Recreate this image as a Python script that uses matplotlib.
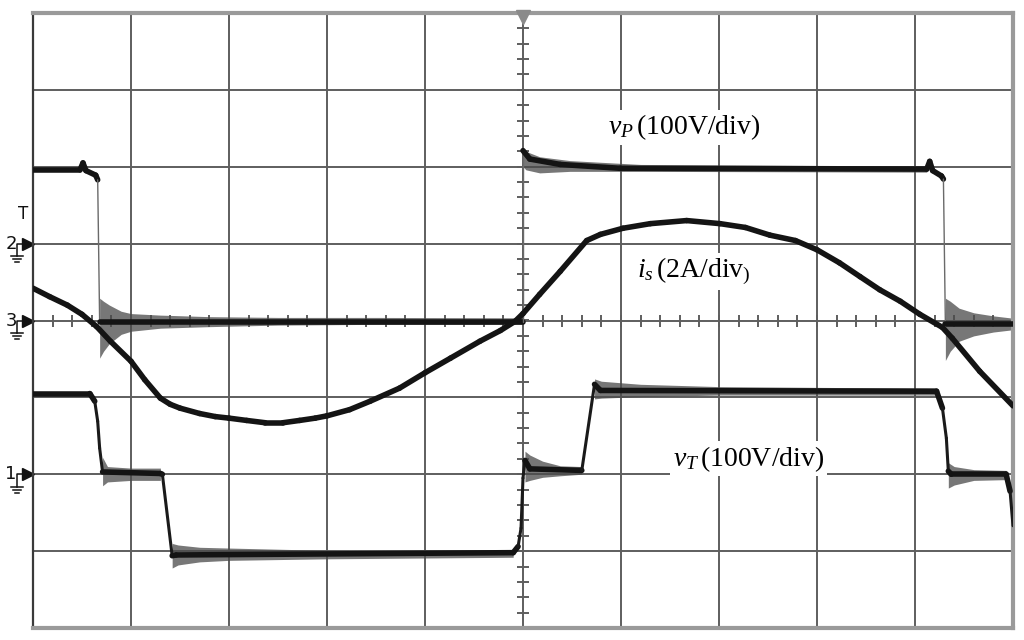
import numpy as np
import matplotlib
matplotlib.use("Agg")
import matplotlib.pyplot as plt
from matplotlib.collections import LineCollection

plt.rcParams['mathtext.fontset'] = 'custom'
plt.rcParams['mathtext.rm'] = 'Liberation Serif'
plt.rcParams['mathtext.it'] = 'Liberation Serif:italic'

# traces, in scope divisions (x: 0..10, y: -4..4)
vp_x = [0, 0.48, 0.51, 0.54, 0.64, 0.66, 0.68, 5.0, 5.0, 5.07, 5.38, 5.99,
        9.12, 9.15, 9.18, 9.27, 9.29, 9.31, 10]
vp_y = [1.96, 1.96, 2.05, 1.95, 1.89, 1.83, -0.02, -0.02, 2.21, 2.10, 2.03, 1.98,
        1.97, 2.07, 1.95, 1.88, 1.84, -0.05, -0.05]

vt_x = [0, 0.58, 0.63, 0.66, 0.68, 0.71, 1.30, 1.32, 1.42, 1.46, 4.90, 4.95, 4.98,
        5.0, 5.02, 5.07, 5.60, 5.73, 5.79, 9.22, 9.28, 9.32, 9.34, 9.37, 9.93,
        9.97, 10]
vt_y = [-0.95, -0.95, -1.05, -1.31, -1.66, -1.97, -1.99, -2.0, -3.06, -3.05, -3.02,
        -2.94, -2.70, -2.05, -1.82, -1.93, -1.95, -0.83, -0.91, -0.92, -1.14, -1.53,
        -1.96, -2.0, -2.0, -2.22, -2.67]

is_x = [0.00, 0.17, 0.35, 0.50, 0.65, 0.79, 1.00, 1.14, 1.30, 1.40, 1.50, 1.70,
        1.86, 2.00, 2.18, 2.37, 2.55, 2.72, 2.88, 3.00, 3.23, 3.44, 3.74, 4.00,
        4.26, 4.56, 4.77, 4.92, 5.00, 5.17, 5.38, 5.65, 5.79, 6.02, 6.30, 6.67,
        7.01, 7.27, 7.52, 7.78, 8.00, 8.23, 8.44, 8.64, 8.85, 9.05, 9.28, 9.38,
        9.66, 10.0]
is_y = [0.42, 0.31, 0.20, 0.08, -0.08, -0.27, -0.53, -0.77, -1.01, -1.09, -1.14,
        -1.21, -1.25, -1.27, -1.30, -1.33, -1.33, -1.30, -1.27, -1.24, -1.16, -1.05,
        -0.88, -0.68, -0.49, -0.27, -0.13, -0.01, 0.09, 0.34, 0.64, 1.04, 1.12,
        1.20, 1.26, 1.30, 1.26, 1.21, 1.11, 1.04, 0.92, 0.75, 0.57, 0.40, 0.25,
        0.08, -0.09, -0.23, -0.66, -1.11]

# ringing envelopes (x, upper, lower)
vp_ring1_x = [0.68, 0.72, 0.78, 0.9, 1.0, 1.3, 1.8, 2.5, 3.5, 5.0]
vp_ring1_hi = [0.29, 0.25, 0.20, 0.12, 0.09, 0.07, 0.05, 0.04, 0.04, 0.035]
vp_ring1_lo = [-0.49, -0.40, -0.30, -0.18, -0.14, -0.10, -0.08, -0.06, -0.05, -0.05]

vp_ring2_x = [5.0, 5.03, 5.17, 5.48, 6.2, 9.12]
vp_ring2_hi = [2.26, 2.20, 2.13, 2.08, 2.03, 2.01]
vp_ring2_lo = [2.00, 1.96, 1.92, 1.94, 1.94, 1.93]

vp_ring3_x = [9.31, 9.36, 9.45, 9.6, 9.8, 10]
vp_ring3_hi = [0.29, 0.25, 0.16, 0.10, 0.06, 0.03]
vp_ring3_lo = [-0.52, -0.40, -0.27, -0.20, -0.15, -0.12]

vt_ring_x = [[0.71, 0.76, 1.0, 1.30],
             [1.42, 1.48, 1.7, 2.0, 3.0, 4.9],
             [5.02, 5.07, 5.2, 5.38, 5.6],
             [5.73, 5.8, 6.2, 7.0, 8.0, 9.22],
             [9.34, 9.4, 9.6, 9.93]]
vt_ring_hi = [[-1.78, -1.90, -1.92, -1.92],
              [-2.90, -2.92, -2.95, -2.96, -2.99, -3.00],
              [-1.70, -1.75, -1.83, -1.89, -1.90],
              [-0.76, -0.79, -0.83, -0.86, -0.87, -0.88],
              [-1.85, -1.90, -1.94, -1.95]]
vt_ring_lo = [[-2.15, -2.10, -2.08, -2.08],
              [-3.22, -3.18, -3.14, -3.12, -3.10, -3.08],
              [-2.10, -2.08, -2.04, -2.02, -2.00],
              [-1.02, -1.01, -0.99, -0.97, -0.97, -0.97],
              [-2.18, -2.14, -2.08, -2.07]]

channels = ['2', '3', '1']
channel_levels = [1, 0, -2]


def draw_trace(ax, xs, ys, lw):
    # fast edges come out thin and faint, like on the scope screen
    segs, widths, cols = [], [], []
    for i in range(len(xs) - 1):
        dx = xs[i + 1] - xs[i]
        dy = ys[i + 1] - ys[i]
        segs.append([(xs[i], ys[i]), (xs[i + 1], ys[i + 1])])
        slope = np.inf if dx == 0 else abs(dy / dx)
        if slope > 40:
            widths.append(1.0)
            cols.append('#6a6a6a')
        elif slope > 6:
            widths.append(2.2)
            cols.append('#1a1a1a')
        else:
            widths.append(lw)
            cols.append('#141414')
    lc = LineCollection(segs, linewidths=widths, colors=cols, capstyle='round',
                        joinstyle='round', zorder=3)
    ax.add_collection(lc)


def ring(ax, xs, hi, lo):
    ax.fill_between(xs, lo, hi, color='#4a4a4a', alpha=0.75, lw=0, zorder=2.5)


fig = plt.figure(figsize=(10.24, 6.4), dpi=100)
ax = fig.add_axes([33 / 1024, 12 / 640, 980 / 1024, 615 / 640])
ax.set_xlim(0, 10)
ax.set_ylim(-4, 4)
ax.set_xticks([])
ax.set_yticks([])

for s in ['top', 'bottom', 'right']:
    ax.spines[s].set_color('#9a9a9a')
    ax.spines[s].set_linewidth(3)
ax.spines['left'].set_color('#3a3a3a')
ax.spines['left'].set_linewidth(1.6)

# graticule
for gx in range(1, 10):
    ax.axvline(gx, color='#5e5e5e', lw=1.4, zorder=1)
for gy in range(-3, 4):
    ax.axhline(gy, color='#5e5e5e', lw=1.4, zorder=1)
minor = np.arange(0.2, 10, 0.2)
ax.plot(minor, np.zeros_like(minor), ls='none', marker='|', ms=8, mew=1.4,
        color='#5e5e5e', zorder=1)
minor_y = np.arange(-3.8, 4, 0.2)
ax.plot(np.full_like(minor_y, 5.0), minor_y, ls='none', marker='_', ms=8, mew=1.4,
        color='#5e5e5e', zorder=1)

# trigger marker on top
ax.plot([5], [3.95], marker='v', ms=10, color='#8a8a8a', clip_on=False, zorder=4)

# ringing
ring(ax, vp_ring1_x, vp_ring1_hi, vp_ring1_lo)
ring(ax, vp_ring2_x, vp_ring2_hi, vp_ring2_lo)
ring(ax, vp_ring3_x, vp_ring3_hi, vp_ring3_lo)
for rx, rh, rl in zip(vt_ring_x, vt_ring_hi, vt_ring_lo):
    ring(ax, rx, rh, rl)

draw_trace(ax, vp_x, vp_y, 4.0)
draw_trace(ax, vt_x, vt_y, 4.0)
draw_trace(ax, is_x, is_y, 4.0)

# channel markers on the left edge
for lab, lev in zip(channels, channel_levels):
    ax.text(-0.225, lev, lab, ha='center', va='center', fontsize=13,
            color='#111111', clip_on=False)
    ax.plot([-0.05], [lev], marker='>', ms=9, color='#111111', clip_on=False)
    ax.plot([-0.163, -0.163, -0.07], [lev - 0.16, lev, lev], color='#111111',
            lw=1.1, clip_on=False)
    for k, half in enumerate([0.065, 0.042, 0.02]):
        yy = lev - 0.16 - 0.04 * k
        ax.plot([-0.163 - half, -0.163 + half], [yy, yy], color='#111111',
                lw=1.1, clip_on=False)
ax.text(-0.10, 1.39, 'T', ha='center', va='center', fontsize=12,
        color='#111111', clip_on=False)

# trace labels
box = dict(facecolor='white', edgecolor='none', pad=2)
ax.text(5.87, 2.42, r'$v_P\,\mathrm{(100V/div)}$', fontsize=20, ha='left',
        va='baseline', bbox=box, zorder=5)
ax.text(6.16, 0.56, r'$i_s\,\mathrm{(2A/div}_{)}$', fontsize=20, ha='left',
        va='baseline', bbox=box, zorder=5)
ax.text(6.53, -1.89, r'$v_T\,\mathrm{(100V/div)}$', fontsize=20, ha='left',
        va='baseline', bbox=box, zorder=5)

fig.savefig('out.png', dpi=100, facecolor='white')
